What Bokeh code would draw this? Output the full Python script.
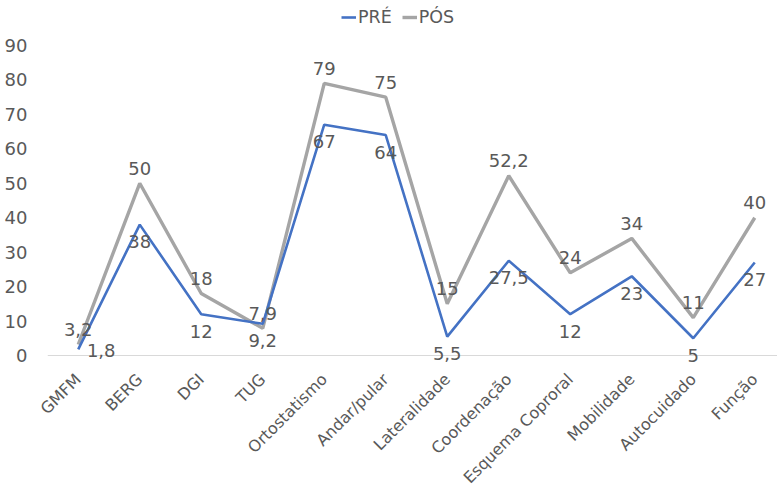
from bokeh.plotting import figure
from bokeh.models import (ColumnDataSource, LabelSet, Legend, LegendItem, Range1d,
                          FixedTicker, Span)
from bokeh.core.properties import value
from bokeh.embed import file_html
from bokeh.resources import INLINE

categories = ["GMFM", "BERG", "DGI", "TUG", "Ortostatismo", "Andar/pular",
              "Lateralidade", "Coordenação", "Esquema Coproral", "Mobilidade",
              "Autocuidado", "Função"]
pre = [1.8, 38, 12, 9.2, 67, 64, 5.5, 27.5, 12, 23, 5, 27]
pos = [3.2, 50, 18, 7.9, 79, 75, 15, 52.2, 24, 34, 11, 40]
y_ticks = [0, 10, 20, 30, 40, 50, 60, 70, 80, 90]

# label placement (style)
pre_dx = [23] + [0] * 11
pre_dy = [-1] + [-17] * 11
pos_dx = [0] * 12
pos_dy = [15] * 12

FONT = "DejaVu Sans"
TXT = "#595959"
BLUE = "#4472C4"
GRAY = "#A5A5A5"


def fmt(v):
    return f"{v:g}".replace(".", ",")


xs = list(range(len(categories)))
src_pre = ColumnDataSource(dict(x=xs, y=pre, t=[fmt(v) for v in pre],
                                dx=pre_dx, dy=pre_dy))
src_pos = ColumnDataSource(dict(x=xs, y=pos, t=[fmt(v) for v in pos],
                                dx=pos_dx, dy=pos_dy))

p = figure(width=777, height=496, output_backend="svg", toolbar_location=None,
           x_range=Range1d(-0.5, 11.37), y_range=Range1d(-2.61, 103.07),
           min_border_left=47, min_border_right=0, min_border_top=0,
           min_border_bottom=127)
p.outline_line_color = None
p.background_fill_color = "white"
p.border_fill_color = "white"
p.xgrid.visible = False
p.ygrid.visible = False

p.add_layout(Span(location=0, dimension="width", line_color="#D9D9D9",
                  line_width=1))

r_pos = p.line("x", "y", source=src_pos, line_color=GRAY, line_width=3.4)
r_pre = p.line("x", "y", source=src_pre, line_color=BLUE, line_width=2.6)

for s in (src_pos, src_pre):
    p.add_layout(LabelSet(x="x", y="y", text="t", source=s,
                          x_offset="dx", y_offset="dy",
                          text_align="center", text_baseline="middle",
                          text_font=value(FONT), text_font_size="18px",
                          text_color=TXT))

p.xaxis.ticker = FixedTicker(ticks=xs)
p.xaxis.major_label_overrides = {i: c for i, c in enumerate(categories)}
p.xaxis.major_label_orientation = 0.785398
p.xaxis.major_tick_line_color = None
p.xaxis.minor_tick_line_color = None
p.xaxis.axis_line_color = None
p.xaxis.major_label_text_font = FONT
p.xaxis.major_label_text_font_size = "16px"
p.xaxis.major_label_text_color = TXT
p.xaxis.major_label_standoff = 6

p.yaxis.ticker = FixedTicker(ticks=y_ticks)
p.yaxis.axis_line_color = None
p.yaxis.major_tick_line_color = None
p.yaxis.minor_tick_line_color = None
p.yaxis.major_label_text_font = FONT
p.yaxis.major_label_text_font_size = "18px"
p.yaxis.major_label_text_color = TXT
p.yaxis.major_label_standoff = 14

legend = Legend(items=[LegendItem(label="PRÉ", renderers=[r_pre]),
                       LegendItem(label="PÓS", renderers=[r_pos])],
                orientation="horizontal", location=(294, 337),
                label_text_font=FONT, label_text_font_size="17.5px",
                label_text_color=TXT, glyph_width=15, glyph_height=10,
                label_standoff=2, spacing=10, padding=2, margin=0,
                border_line_color=None, background_fill_alpha=0)
p.add_layout(legend)

open("out.html", "w").write(file_html(p, INLINE))
